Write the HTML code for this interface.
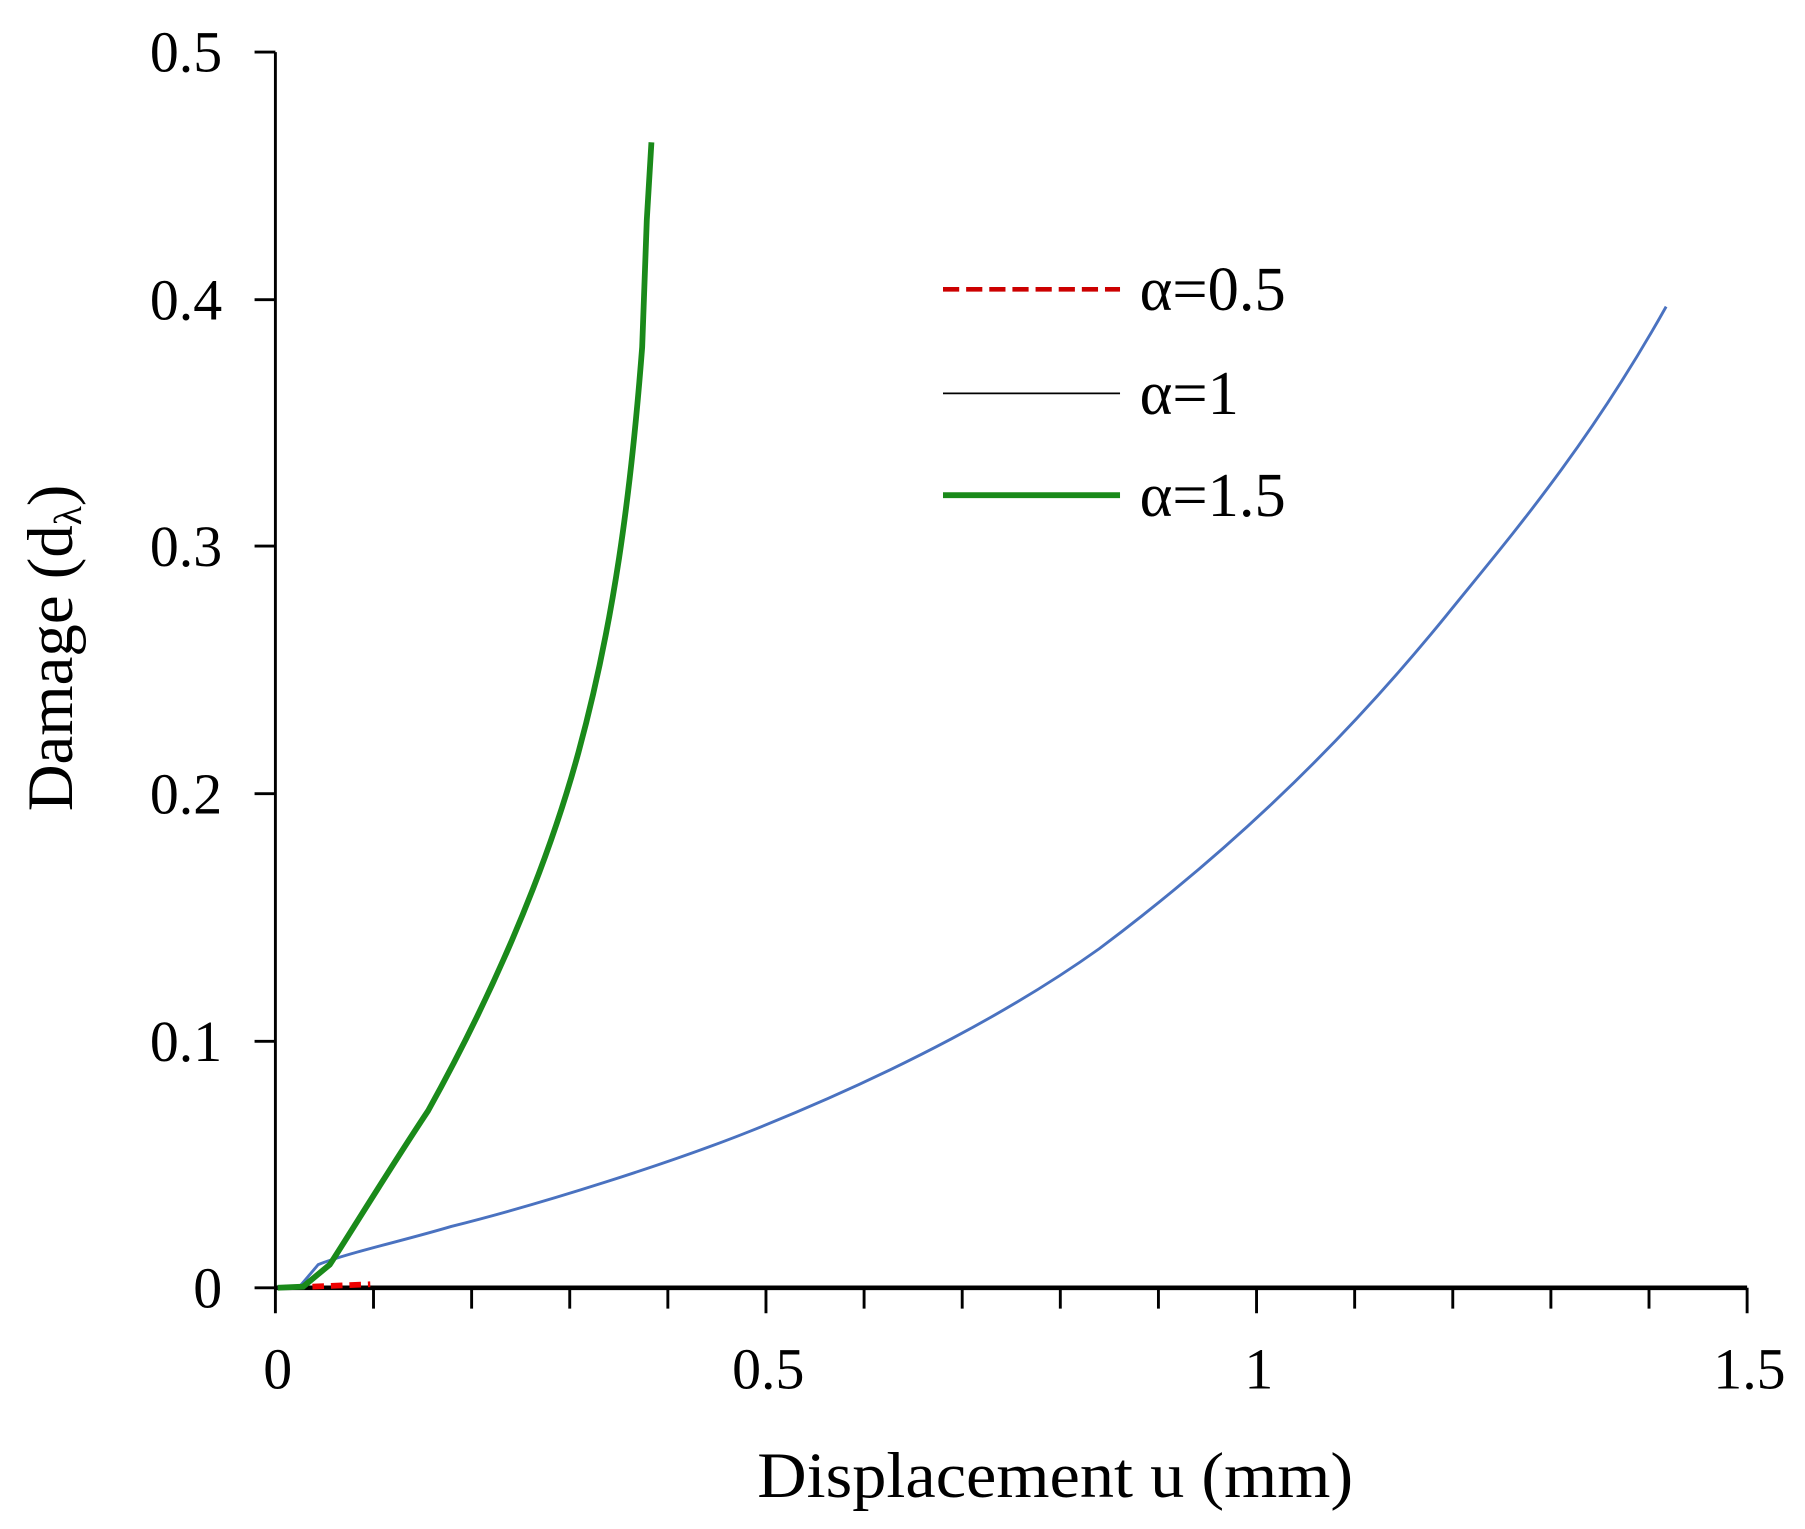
<!DOCTYPE html>
<html><head><style>body{margin:0;background:#fff}svg{display:block}</style></head>
<body>
<svg width="1805" height="1529" viewBox="0 0 1560 1321.5" xmlns="http://www.w3.org/2000/svg" font-family="Liberation Serif, serif">
<rect width="1560" height="1321.5" fill="#fff"/>
<g stroke="#000" stroke-width="2.5" fill="none">
<line x1="238" y1="45" x2="238" y2="1113"/>
<line x1="238" y1="1113" x2="1510" y2="1113" stroke-width="4"/>
<line x1="220" y1="45" x2="238" y2="45"/>
<line x1="220" y1="259" x2="238" y2="259"/>
<line x1="220" y1="472" x2="238" y2="472"/>
<line x1="220" y1="686" x2="238" y2="686"/>
<line x1="220" y1="900" x2="238" y2="900"/>
<line x1="220" y1="1113" x2="238" y2="1113"/>
<path d="M238 1113v22M322.8 1113v18M407.6 1113v18M492.4 1113v18M577.2 1113v18M662 1113v22M746.8 1113v18M831.6 1113v18M916.4 1113v18M1001.2 1113v18M1086 1113v22M1170.8 1113v18M1255.6 1113v18M1340.4 1113v18M1425.2 1113v18M1510 1113v22"/>
</g>
<g font-size="50" fill="#000" text-anchor="end">
<text x="192" y="62">0.5</text><text x="192" y="276">0.4</text><text x="192" y="489">0.3</text>
<text x="192" y="703">0.2</text><text x="192" y="917">0.1</text><text x="192" y="1130">0</text>
</g>
<g font-size="50" fill="#000" text-anchor="middle">
<text x="240" y="1200">0</text><text x="664" y="1200">0.5</text><text x="1088" y="1200">1</text><text x="1512" y="1200">1.5</text>
<text x="912" y="1294" font-size="56" textLength="515" lengthAdjust="spacingAndGlyphs">Displacement u (mm)</text>
<text transform="translate(62,560) rotate(-90)" font-size="56">Damage  (d<tspan font-size="34" dy="8">λ</tspan><tspan dy="-8">)</tspan></text>
</g>
<path d="M270 1112 L320 1110" stroke="#e00" stroke-width="5" stroke-dasharray="10,6" fill="none"/>
<path d="M240 1113 L258 1113 L275 1093 C300 1083 350 1072 390 1060 C470 1040 580 1005 650 977 C780 925 880 870 950 820 C1050 745 1150 655 1250 532 C1300 470 1370 390 1440 265" stroke="#4a72c0" stroke-width="2.5" fill="none"/>
<path d="M240 1113 L262 1112 L285 1093 C300 1070 340 1005 370 960 C420 870 470 760 500 650 C530 540 545 430 555 300 L559 190 L563 123" stroke="#1a8a1a" stroke-width="5" fill="none"/>
<line x1="815" y1="250" x2="968" y2="250" stroke="#c00" stroke-width="4" stroke-dasharray="14,6"/>
<line x1="815" y1="340" x2="968" y2="340" stroke="#000" stroke-width="1.5"/>
<line x1="815" y1="428" x2="968" y2="428" stroke="#1a8a1a" stroke-width="5"/>
<g font-size="54" fill="#000">
<text x="985" y="268">α=0.5</text><text x="985" y="358">α=1</text><text x="985" y="446">α=1.5</text>
</g>
</svg>
</body></html>
